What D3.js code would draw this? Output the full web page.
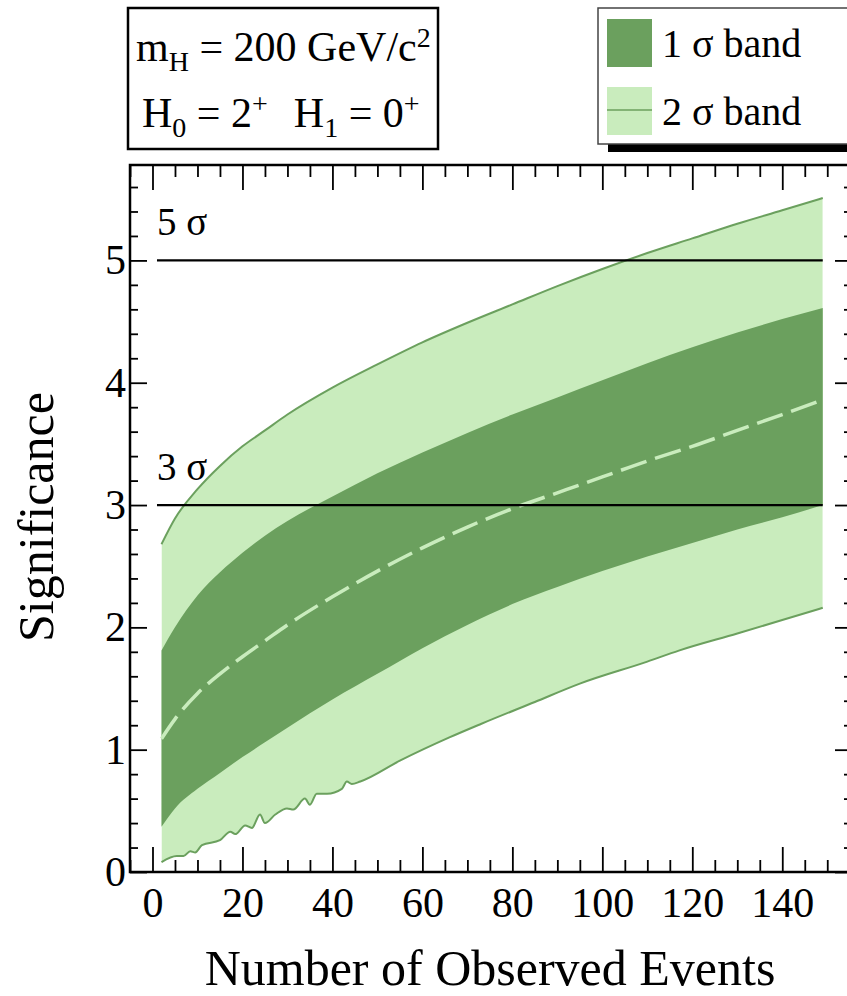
<!DOCTYPE html>
<html>
<head>
<meta charset="utf-8">
<script src="https://cdn.jsdelivr.net/npm/d3@7"></script>
<style>
  body { margin: 0; background: #fff; }
  svg { display: block; font-family: 'Liberation Serif', 'DejaVu Serif', serif; }
</style>
</head>
<body>
<div id="vis"></div>
<script>
// Expected significance vs. number of observed events (m_H = 200 GeV/c^2, 2+ vs 0+)
var events = [2, 5, 10, 15, 20, 25, 30, 40, 50, 60, 70, 80, 90, 100, 110, 120, 130, 140, 149];
var upper2 = [2.68, 2.89, 3.13, 3.32, 3.48, 3.61, 3.74, 3.96, 4.15, 4.33, 4.49, 4.64, 4.79, 4.93, 5.06, 5.18, 5.30, 5.41, 5.51];
var upper1 = [1.81, 2.00, 2.26, 2.45, 2.61, 2.75, 2.87, 3.07, 3.26, 3.43, 3.59, 3.74, 3.88, 4.02, 4.16, 4.29, 4.41, 4.52, 4.61];
var median = [1.09, 1.25, 1.46, 1.62, 1.76, 1.89, 2.02, 2.25, 2.46, 2.65, 2.82, 2.97, 3.10, 3.23, 3.36, 3.48, 3.61, 3.74, 3.86];
var lower1 = [0.37, 0.52, 0.68, 0.81, 0.94, 1.06, 1.18, 1.41, 1.62, 1.83, 2.02, 2.19, 2.33, 2.46, 2.58, 2.69, 2.80, 2.90, 3.00];

// lower 2 sigma edge is noisy at low statistics, so it has its own sampling
var lowEvents = [2, 5.4, 6.9, 8.4, 9.5, 11, 15, 17.3, 18.4, 20.6, 22.1, 23.9, 25, 27.3, 29.9, 31.3, 33.9, 35, 36.5, 38.8,
  42.1, 43.2, 44.3, 46.2, 55, 66, 73, 85, 95, 110, 117, 130, 140, 149];
var lower2 = [0.08, 0.13, 0.13, 0.17, 0.16, 0.22, 0.26, 0.33, 0.31, 0.38, 0.36, 0.47, 0.40, 0.47, 0.52, 0.51, 0.60, 0.55, 0.64, 0.64,
  0.68, 0.74, 0.72, 0.74, 0.91, 1.10, 1.21, 1.39, 1.54, 1.72, 1.81, 1.95, 2.06, 2.16];

var sigmaLevels = [3, 5];
var sigmaLabels = ['3 σ', '5 σ'];
var sigmaRange = [1, 149];

var xMajor = [0, 20, 40, 60, 80, 100, 120, 140];
var yMajor = [0, 1, 2, 3, 4, 5];

var legendLabels = ['1 σ band', '2 σ band'];

(function () {

  'strict';

  var width = 847;
  var height = 996;

  var frame = { left: 130, right: 852, top: 165, bottom: 872 };

  var dark = '#6ba05e';
  var light = '#c9ecbd';

  var svg, x, y, band, edge, upperEdge, lowerEdge;

  svg = d3.select('#vis')
    .append('svg')
      .attr('width', width)
      .attr('height', height);

  x = d3.scaleLinear()
    .domain([-5, 155.5])
    .range([frame.left, frame.right]);

  y = d3.scaleLinear()
    .domain([0, 5.78])
    .range([frame.bottom, frame.top]);

  edge = d3.line()
    .x(function (d) { return x(d[0]); })
    .y(function (d) { return y(d[1]); })
    .curve(d3.curveMonotoneX);

  upperEdge = events.map(function (e, i) { return [e, upper2[i]]; });
  lowerEdge = lowEvents.map(function (e, i) { return [e, lower2[i]]; });

  // 2 sigma band: area under the upper edge, clipped to what lies above the lower edge
  svg.append('clipPath')
      .attr('id', 'above-lower')
    .append('path')
      .attr('d', d3.area()
        .x(function (d) { return x(d[0]); })
        .y0(frame.top)
        .y1(function (d) { return y(d[1]); })
        .curve(d3.curveMonotoneX)(lowerEdge));

  svg.append('path')
      .attr('d', d3.area()
        .x(function (d) { return x(d[0]); })
        .y0(y(0))
        .y1(function (d) { return y(d[1]); })
        .curve(d3.curveMonotoneX)(upperEdge))
      .attr('clip-path', 'url(#above-lower)')
      .attr('fill', light);

  band = d3.area()
    .x(function (d) { return x(d); })
    .y0(function (d, i) { return y(lower1[i]); })
    .y1(function (d, i) { return y(upper1[i]); })
    .curve(d3.curveMonotoneX);

  svg.append('path')
      .attr('d', band(events))
      .attr('fill', dark);

  [upperEdge, lowerEdge].forEach(function (line) {

    svg.append('path')
        .attr('d', edge(line))
        .attr('fill', 'none')
        .attr('stroke', dark)
        .attr('stroke-width', 2);
  });

  svg.append('path')
      .attr('d', edge(events.map(function (e, i) { return [e, median[i]]; })))
      .attr('fill', 'none')
      .attr('stroke', light)
      .attr('stroke-width', 3.5)
      .attr('stroke-dasharray', '27,9');

  // 3 and 5 sigma reference lines
  svg.append('g')
    .selectAll('line')
      .data(sigmaLevels)
      .enter()
    .append('line')
      .attr('x1', x(sigmaRange[0]))
      .attr('x2', x(sigmaRange[1]))
      .attr('y1', function (d) { return y(d); })
      .attr('y2', function (d) { return y(d); })
      .attr('stroke', '#000')
      .attr('stroke-width', 2.2);

  svg.append('g')
    .selectAll('text')
      .data(sigmaLevels)
      .enter()
    .append('text')
      .attr('x', x(sigmaRange[0]))
      .attr('y', function (d) { return y(d) - 25; })
      .attr('font-size', 39)
      .text(function (d, i) { return sigmaLabels[i]; });

  drawAxes(svg, x, y, frame);
  drawInfo(svg);
  drawLegend(svg, dark, light);

  svg.append('text')
      .attr('x', 490)
      .attr('y', 985)
      .attr('text-anchor', 'middle')
      .attr('font-size', 50)
      .text('Number of Observed Events');

  svg.append('text')
      .attr('transform', 'translate(53,517) rotate(-90)')
      .attr('text-anchor', 'middle')
      .attr('font-size', 50)
      .text('Significance');

  function drawAxes(svg, x, y, f) {

    var xMinor = d3.range(-5, 156, 5).filter(function (v) { return v % 20 !== 0; });
    var yMinor = d3.range(0, 5.8, 0.2).filter(function (v) { return Math.abs(v - Math.round(v)) > 0.01; });
    var fmt = d3.format('d');

    var axes = [
      d3.axisBottom(x).tickValues(xMajor).tickSize(-25).tickPadding(15).tickFormat(fmt),
      d3.axisBottom(x).tickValues(xMinor).tickSize(-12).tickFormat(''),
      d3.axisTop(x).tickValues(xMajor).tickSize(-25).tickFormat(''),
      d3.axisTop(x).tickValues(xMinor).tickSize(-12).tickFormat(''),
      d3.axisLeft(y).tickValues(yMajor).tickSize(-17).tickPadding(4).tickFormat(fmt),
      d3.axisLeft(y).tickValues(yMinor).tickSize(-8).tickFormat(''),
      d3.axisRight(y).tickValues(yMajor).tickSize(-17).tickFormat(''),
      d3.axisRight(y).tickValues(yMinor).tickSize(-8).tickFormat('')
    ];

    var offsets = [
      [0, f.bottom], [0, f.bottom], [0, f.top], [0, f.top],
      [f.left, 0], [f.left, 0], [f.right, 0], [f.right, 0]
    ];

    axes.forEach(function (axis, i) {

      var g = svg.append('g')
          .attr('transform', 'translate(' + offsets[i][0] + ',' + offsets[i][1] + ')')
          .call(axis);

      g.select('.domain').remove();
      g.selectAll('line').attr('stroke-width', 1.8);
      g.selectAll('text')
          .attr('font-family', 'Liberation Serif')
          .attr('font-size', 42)
          .attr('fill', '#000');
    });

    svg.append('rect')
        .attr('x', f.left)
        .attr('y', f.top)
        .attr('width', f.right - f.left)
        .attr('height', f.bottom - f.top)
        .attr('fill', 'none')
        .attr('stroke', '#000')
        .attr('stroke-width', 2.5);
  }

  function drawInfo(svg) {

    var t;

    svg.append('rect')
        .attr('x', 128)
        .attr('y', 8)
        .attr('width', 310)
        .attr('height', 141)
        .attr('fill', '#fff')
        .attr('stroke', '#000')
        .attr('stroke-width', 2.5);

    t = svg.append('text')
        .attr('x', 136)
        .attr('y', 61)
        .attr('font-size', 42);
    t.append('tspan').text('m');
    t.append('tspan').attr('dy', 10).attr('font-size', 28).text('H');
    t.append('tspan').attr('dy', -10).text(' = 200 GeV/c');
    t.append('tspan').attr('dy', -14).attr('font-size', 28).text('2');

    t = svg.append('text')
        .attr('x', 142)
        .attr('y', 127)
        .attr('font-size', 42);
    t.append('tspan').text('H');
    t.append('tspan').attr('dy', 10).attr('font-size', 28).text('0');
    t.append('tspan').attr('dy', -10).text(' = 2');
    t.append('tspan').attr('dy', -14).attr('font-size', 28).text('+');
    t.append('tspan').attr('dy', 14).attr('dx', 26).text('H');
    t.append('tspan').attr('dy', 10).attr('font-size', 28).text('1');
    t.append('tspan').attr('dy', -10).text(' = 0');
    t.append('tspan').attr('dy', -14).attr('font-size', 28).text('+');
  }

  function drawLegend(svg, dark, light) {

    var rows;

    svg.append('rect')
        .attr('x', 608)
        .attr('y', 144)
        .attr('width', 260)
        .attr('height', 8)
        .attr('fill', '#000');

    svg.append('rect')
        .attr('x', 598)
        .attr('y', 8)
        .attr('width', 270)
        .attr('height', 136)
        .attr('fill', '#fff')
        .attr('stroke', '#444')
        .attr('stroke-width', 1.5);

    rows = svg.append('g')
      .selectAll('g')
        .data(legendLabels)
        .enter()
      .append('g')
        .attr('transform', function (d, i) { return 'translate(607,' + (19 + i * 68) + ')'; });

    rows.append('rect')
        .attr('width', 45)
        .attr('height', 48)
        .attr('fill', function (d, i) { return i === 0 ? dark : light; });

    rows.filter(function (d, i) { return i === 1; })
      .append('line')
        .attr('x1', 0)
        .attr('x2', 45)
        .attr('y1', 23)
        .attr('y2', 23)
        .attr('stroke', dark)
        .attr('stroke-width', 1.5);

    rows.append('text')
        .attr('x', 55)
        .attr('y', 38)
        .attr('font-size', 40)
        .text(function (d) { return d; });
  }
})();
</script>
</body>
</html>
